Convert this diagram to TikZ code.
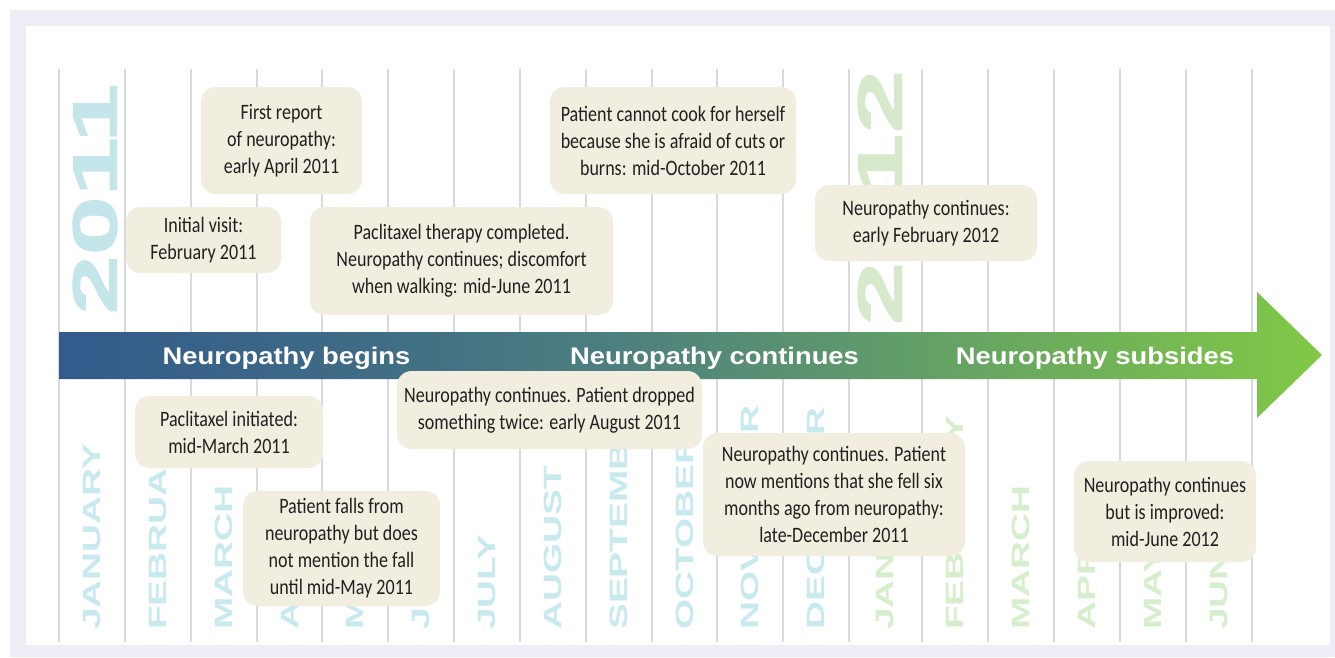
\documentclass[tikz,border=0pt]{standalone}
\usepackage{fontspec}
\newfontfamily\boxfont{Carlito}[FakeStretch=0.82]
\newfontfamily\monthfont{Liberation Sans}[FakeStretch=1.55]
\newfontfamily\bandfont{Liberation Sans}[FakeStretch=1.14]
\newfontfamily\yearfont{Liberation Sans}[FakeStretch=1.7,FakeBold=1.5]
\definecolor{framec}{HTML}{EDEDF5}
\definecolor{gridc}{HTML}{D9D9DE}
\definecolor{boxc}{HTML}{F1EEDF}
\definecolor{txt}{HTML}{231F20}
\definecolor{mone}{HTML}{C8E9EE}
\definecolor{mtwo}{HTML}{D6EECC}
\definecolor{yone}{HTML}{C4E5EA}
\definecolor{ytwo}{HTML}{D6EACB}
\definecolor{acA}{HTML}{325A8B}
\definecolor{acB}{HTML}{3E6A86}
\definecolor{acC}{HTML}{4B7D80}
\definecolor{acD}{HTML}{5D976D}
\definecolor{acE}{HTML}{7BC14C}
\definecolor{acF}{HTML}{82C846}
\pgfdeclarehorizontalshading{arrowshade}{100bp}{color(0bp)=(acA); color(25bp)=(acA); color(36bp)=(acB); color(46bp)=(acC); color(56bp)=(acD); color(72bp)=(acE); color(75bp)=(acF); color(100bp)=(acF)}
\begin{document}
\begin{tikzpicture}[x=0.75pt,y=-0.75pt,
  gridline/.style={draw=gridc, line width=1.5pt},
  evt/.style={fill=boxc, rounded corners=11pt, inner sep=0pt, align=center, text=txt,
    font=\boxfont\fontsize{16.5pt}{20.25pt}\selectfont},
  mon/.style={rotate=90, anchor=west, inner sep=0pt,
    font=\monthfont\bfseries\fontsize{18.75pt}{20pt}\selectfont},
  band/.style={text=white, anchor=base, inner sep=0pt,
    font=\bandfont\bfseries\fontsize{18pt}{20pt}\selectfont},
  yr/.style={rotate=90, inner sep=0pt,
    font=\yearfont\bfseries\fontsize{47pt}{50pt}\selectfont}]
\useasboundingbox (0,0) rectangle (1335,657);
\fill[framec] (10,10) rectangle (1335,657);
\fill[white] (26,26) rectangle (1330,645);
% grid
\foreach \x in {59,125,191,257,322,388,454,520,586,652,717,783,849,922,988,1054,1120,1186,1252}
  \draw[gridline] (\x,69) -- (\x,642);
% years
\node[yr, text=yone] (y2011) at (95,199) {2011};
\node[yr, text=ytwo] (y2012) at (880,197.5) {\scalebox{1.08}[1]{2012}};
% months
\foreach \x/\m [count=\i] in {92/JANUARY,158/FEBRUARY,224/MARCH,289.5/APRIL,355/MAY,421/JUNE,487/JULY,553/AUGUST,619/SEPTEMBER,684.5/OCTOBER,750/NOVEMBER,816/DECEMBER}
  \node[mon, text=mone] (ma\i) at (\x,630) {\m};
\foreach \x/\m [count=\i] in {885.5/JANUARY,955/FEBRUARY,1021/MARCH,1087/APRIL,1153/MAY,1219/JUNE}
  \node[mon, text=mtwo] (mb\i) at (\x,630) {\m};
% arrow
\shade[shading=arrowshade] (59,332) -- (1257,332) -- (1257,292) -- (1322,355) -- (1257,418) -- (1257,379) -- (59,379) -- cycle;
\node[band] (l1) at (286.5,364) {Neuropathy begins};
\node[band] (l2) at (714.5,364) {Neuropathy continues};
\node[band] (l3) at (1095,364) {Neuropathy subsides};
% events
\node[evt, minimum width=161*0.75pt, minimum height=107*0.75pt] (b1) at (281.5,140.5) {First report\\of neuropathy:\\early April 2011};
\node[evt, minimum width=155*0.75pt, minimum height=66*0.75pt] (b2) at (203.5,240) {Initial visit:\\February 2011};
\node[evt, minimum width=303*0.75pt, minimum height=108*0.75pt] (b3) at (461.5,261) {Paclitaxel therapy completed.\\Neuropathy continues; discomfort\\when walking: mid-June 2011};
\node[evt, minimum width=246*0.75pt, minimum height=107*0.75pt] (b4) at (673,140.5) {Patient cannot cook for herself\\because she is afraid of cuts or\\burns: mid-October 2011};
\node[evt, minimum width=222*0.75pt, minimum height=76*0.75pt] (b5) at (926,223) {Neuropathy continues:\\early February 2012};
\node[evt, minimum width=188*0.75pt, minimum height=72*0.75pt] (b6) at (229,432) {Paclitaxel initiated:\\mid-March 2011};
\node[evt, minimum width=197*0.75pt, minimum height=115*0.75pt] (b7) at (341.5,548.5) {Patient falls from\\neuropathy but does\\not mention the fall\\until mid-May 2011};
\node[evt, minimum width=305*0.75pt, minimum height=78*0.75pt] (b8) at (549.5,410) {Neuropathy continues. Patient dropped\\something twice: early August 2011};
\node[evt, minimum width=262*0.75pt, minimum height=123*0.75pt] (b9) at (834,494.5) {Neuropathy continues. Patient\\now mentions that she fell six\\months ago from neuropathy:\\late-December 2011};
\node[evt, minimum width=182*0.75pt, minimum height=101*0.75pt] (b10) at (1165,511.5) {Neuropathy continues\\but is improved:\\mid-June 2012};
\end{tikzpicture}
\end{document}
